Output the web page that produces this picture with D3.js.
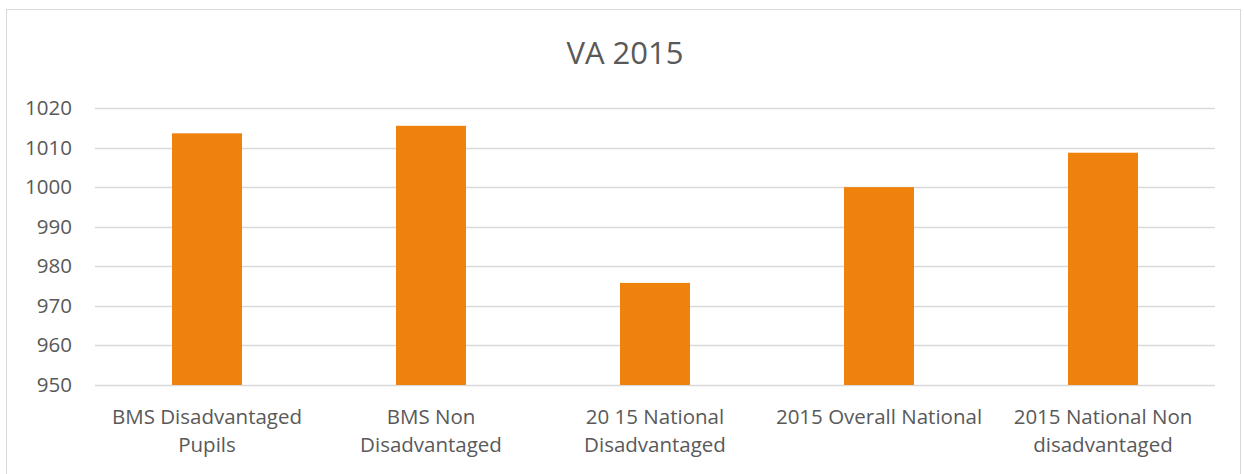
<!DOCTYPE html>
<html>
<head>
<meta charset="utf-8">
<script src="https://cdn.jsdelivr.net/npm/d3@7"></script>
<style>
  body { margin: 0; background: #fff; }
  text { font-family: "Open Sans", "Noto Sans", sans-serif; fill: #595959; }
</style>
</head>
<body>
<svg id="chart" width="1244" height="474"></svg>
<script>
// 数据
var categories = [
  ["BMS Disadvantaged", "Pupils"],
  ["BMS Non", "Disadvantaged"],
  ["20 15 National", "Disadvantaged"],
  ["2015 Overall National"],
  ["2015 National Non", "disadvantaged"]
];
var values = [1013.6, 1015.5, 975.8, 1000, 1008.7];
var yTicks = [950, 960, 970, 980, 990, 1000, 1010, 1020];
var title = "VA 2015";

var svg = d3.select("#chart");

// 外框
svg.append("rect")
  .attr("x", 6.5).attr("y", 9.5)
  .attr("width", 1234).attr("height", 480)
  .attr("fill", "none")
  .attr("stroke", "#d9d9d9");

// 标题
svg.append("text")
  .attr("x", 625).attr("y", 64)
  .attr("text-anchor", "middle")
  .style("font-size", "31px")
  .text(title);

var x = d3.scaleBand()
  .domain(d3.range(categories.length))
  .range([95, 1215])
  .paddingInner(0.6875)
  .paddingOuter(0.34375);

var y = d3.scaleLinear()
  .domain([950, 1020])
  .range([385, 108]);

// 网格线
svg.append("g")
  .selectAll("line")
  .data(yTicks)
  .enter().append("line")
  .attr("x1", 95).attr("x2", 1215)
  .attr("y1", function (d) { return Math.round(y(d)) + 0.5; })
  .attr("y2", function (d) { return Math.round(y(d)) + 0.5; })
  .attr("stroke", "#d9d9d9")
  .attr("stroke-width", 1.3);

// y轴
var yAxis = d3.axisLeft(y).tickValues(yTicks).tickFormat(d3.format("d")).tickSize(0).tickPadding(0);
var gy = svg.append("g").attr("transform", "translate(72,0)").call(yAxis);
gy.select(".domain").remove();
gy.selectAll("text")
  .style("font-size", "20.5px")
  .style("font-family", null)
  .attr("fill", null);

// 柱子
svg.append("g")
  .selectAll("rect")
  .data(values)
  .enter().append("rect")
  .attr("x", function (d, i) { return x(i); })
  .attr("width", x.bandwidth())
  .attr("y", function (d) { return y(d); })
  .attr("height", function (d) { return y(950) - y(d); })
  .attr("fill", "#ef820d");

// x轴标签
var labels = svg.append("g")
  .selectAll("text")
  .data(categories)
  .enter().append("text")
  .attr("text-anchor", "middle")
  .attr("x", function (d, i) { return x(i) + x.bandwidth() / 2; })
  .attr("y", 424)
  .style("font-size", "20.5px");
labels.selectAll("tspan")
  .data(function (d) { return d; })
  .enter().append("tspan")
  .attr("x", function () { return d3.select(this.parentNode).attr("x"); })
  .attr("dy", function (d, i) { return i === 0 ? 0 : 28; })
  .text(function (d) { return d; });
</script>
</body>
</html>
